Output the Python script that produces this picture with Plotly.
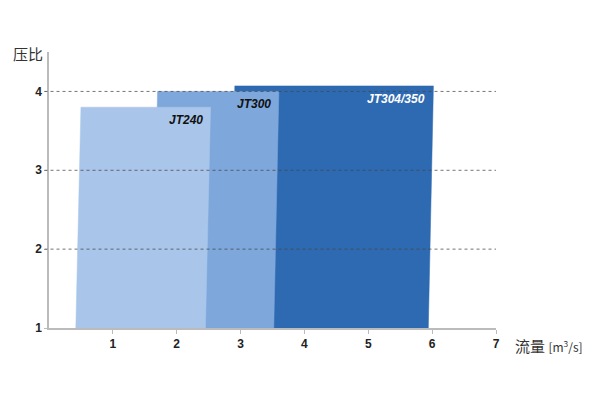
import plotly.graph_objects as go

# Data
models = ["JT304/350", "JT300", "JT240"]          # drawn back to front
flow_start = [2.83, 1.62, 0.42]                    # m3/s (bottom-left)
flow_end = [5.94, 3.52, 2.45]                      # m3/s (bottom-right)
pressure_ratio = [4.07, 4.0, 3.8]
colors = ["#2E6AB1", "#7EA7DC", "#A9C6EA"]
label_colors = ["#FFFFFF", "#111111", "#111111"]

x_ticks = [1, 2, 3, 4, 5, 6, 7]
y_ticks = [1, 2, 3, 4]
y_base = 1
skew = 0.08  # slight perspective slant of the blocks

fig = go.Figure()

for name, x0, x1, top, c in zip(models, flow_start, flow_end, pressure_ratio, colors):
    fig.add_trace(go.Scatter(
        x=[x0, x0 + skew, x1 + skew, x1, x0],
        y=[y_base, top, top, y_base, y_base],
        fill="toself", fillcolor=c, mode="lines",
        line=dict(color=c, width=0.5), name=name, showlegend=False,
        hoverinfo="skip",
    ))

# dotted grid lines drawn above the blocks
for yv in y_ticks[1:]:
    fig.add_shape(type="line", xref="paper", yref="y", x0=-0.01, x1=1.0,
                  y0=yv, y1=yv, layer="above",
                  line=dict(color="rgba(70,70,70,0.75)", width=1, dash="dot"))

for name, x1, top, lc in zip(models, flow_end, pressure_ratio, label_colors):
    fig.add_annotation(x=x1 + skew, y=top, text=f"<b><i>{name}</i></b>",
                       showarrow=False, xanchor="right", yanchor="top",
                       xshift=-6, yshift=-4,
                       font=dict(family="Liberation Sans, Arial", size=12, color=lc))

fig.add_annotation(xref="paper", yref="paper", x=-0.01, y=1.0, text="压比",
                   showarrow=False, xanchor="right", yanchor="bottom", yshift=-14,
                   font=dict(family="Noto Sans CJK SC", size=15, color="#333333"))
fig.add_annotation(xref="paper", yref="paper", x=1.0, y=0, text="流量 <span style='font-size:12px'>[m<sup>3</sup>/s]</span>",
                   showarrow=False, xanchor="left", yanchor="top", xshift=17, yshift=-5,
                   font=dict(family="Noto Sans CJK SC", size=15, color="#333333"))

fig.update_xaxes(range=[0, 7], tickvals=x_ticks, ticktext=[f"<b>{v}</b>" for v in x_ticks],
                 showgrid=False, zeroline=False, showline=True, linecolor="#BBBBBB",
                 linewidth=1.5, ticks="outside", ticklen=4, tickcolor="#BBBBBB",
                 tickfont=dict(family="Liberation Sans, Arial", size=12, color="#222222"),
                 fixedrange=True)
fig.update_yaxes(range=[1, 4.5], tickvals=y_ticks, ticktext=[f"<b>{v}</b>" for v in y_ticks],
                 showgrid=False, zeroline=False, showline=True, linecolor="#BBBBBB",
                 linewidth=1.5, ticks="outside", ticklen=3, tickcolor="#BBBBBB",
                 tickfont=dict(family="Liberation Sans, Arial", size=12, color="#222222"),
                 fixedrange=True)

fig.update_layout(width=592, height=392, plot_bgcolor="white", paper_bgcolor="white",
                  margin=dict(l=41, r=104, t=44, b=72), showlegend=False)

fig.write_html("out.html")
